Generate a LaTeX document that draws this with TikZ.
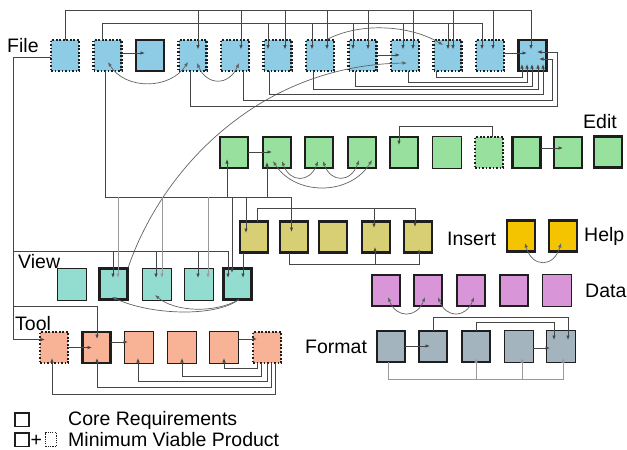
\documentclass[tikz,border=0pt]{standalone}
\usepackage{fontspec}
\setmainfont{Liberation Sans}
\usetikzlibrary{arrows.meta}
\definecolor{filebl}{RGB}{142,204,230}
\definecolor{editgr}{RGB}{152,224,158}
\definecolor{insol}{RGB}{216,206,115}
\definecolor{helpy}{RGB}{245,196,0}
\definecolor{datap}{RGB}{216,150,216}
\definecolor{formg}{RGB}{163,180,190}
\definecolor{viewt}{RGB}{147,221,208}
\definecolor{tools}{RGB}{248,178,150}
\definecolor{edge}{RGB}{30,30,30}
\definecolor{wire}{RGB}{70,70,70}

\tikzset{
  bx/.style={draw=edge, minimum width=28pt, minimum height=31pt, inner sep=0pt, outer sep=0pt},
  core/.style={bx, line width=2.4pt},
  thinb/.style={bx, line width=0.9pt, minimum width=29pt, minimum height=32pt},
  mvp/.style={bx, line width=2.2pt, dash pattern=on 1.9pt off 1.6pt},
  ln/.style={draw=wire, line width=0.8pt},
  arr/.style={ln, -{Latex[length=4.5pt,width=3.6pt]}},
  lite/.style={arr, draw=wire!55},
  curv/.style={draw=wire!85, line width=0.7pt},
  carr/.style={curv, -{Latex[length=4.5pt,width=3.6pt]}},
  darr/.style={curv, {Latex[length=4.5pt,width=3.6pt]}-{Latex[length=4.5pt,width=3.6pt]}},
  lbl/.style={font=\fontsize{19.5}{22}\selectfont, inner sep=0pt, anchor=base west},
}

\begin{document}
\begin{tikzpicture}[x=1pt,y=-1pt]
\useasboundingbox (0,0) rectangle (627,450);

% ---------- File ----------
\node[mvp,fill=filebl]  (f1)  at (65,55.5) {};
\node[mvp,fill=filebl]  (f2)  at (107.5,55.5) {};
\node[core,fill=filebl] (f3)  at (150,55.5) {};
\node[mvp,fill=filebl]  (f4)  at (192.5,55.5) {};
\node[mvp,fill=filebl]  (f5)  at (235,55.5) {};
\node[mvp,fill=filebl]  (f6)  at (277.5,55.5) {};
\node[mvp,fill=filebl]  (f7)  at (320,55.5) {};
\node[mvp,fill=filebl]  (f8)  at (362.5,55.5) {};
\node[mvp,fill=filebl]  (f9)  at (405,55.5) {};
\node[mvp,fill=filebl]  (f10) at (447.5,55.5) {};
\node[mvp,fill=filebl]  (f11) at (490,55.5) {};
\node[core,fill=filebl] (f12) at (532.5,55.5) {};

% ---------- Edit ----------
\node[core,fill=editgr]  (e1)  at (234,152.5) {};
\node[core,fill=editgr]  (e2)  at (277,152.5) {};
\node[core,fill=editgr]  (e3)  at (319,152.5) {};
\node[core,fill=editgr]  (e4)  at (362,152.5) {};
\node[core,fill=editgr]  (e5)  at (404,152.5) {};
\node[thinb,fill=editgr] (e6)  at (447,152.5) {};
\node[mvp,fill=editgr]   (e7)  at (489,152.5) {};
\node[core,fill=editgr]  (e8)  at (526.5,152.5) {};
\node[core,fill=editgr]  (e9)  at (568,152.5) {};
\node[core,fill=editgr]  (e10) at (608,152) {};

% ---------- Insert / Help ----------
\node[core,fill=insol] (i1) at (254,237) {};
\node[core,fill=insol] (i2) at (294,237) {};
\node[core,fill=insol] (i3) at (333,237) {};
\node[core,fill=insol] (i4) at (376,237) {};
\node[core,fill=insol] (i5) at (418,237) {};
\node[core,fill=helpy] (h1) at (521,236) {};
\node[core,fill=helpy] (h2) at (563,236) {};

% ---------- Data ----------
\node[core,fill=datap]  (d1) at (386,290.5) {};
\node[core,fill=datap]  (d2) at (428,290.5) {};
\node[core,fill=datap]  (d3) at (471,290.5) {};
\node[core,fill=datap]  (d4) at (514,290.5) {};
\node[thinb,fill=datap] (d5) at (556.5,290.5) {};

% ---------- Format ----------
\node[core,fill=formg]  (m1) at (391,346.5) {};
\node[core,fill=formg]  (m2) at (433,346.5) {};
\node[core,fill=formg]  (m3) at (476,346.5) {};
\node[thinb,fill=formg] (m4) at (518.5,346.5) {};
\node[thinb,fill=formg] (m5) at (561,346.5) {};

% ---------- View ----------
\node[thinb,fill=viewt] (v1) at (71.5,284) {};
\node[core,fill=viewt]  (v2) at (113.5,284) {};
\node[thinb,fill=viewt] (v3) at (156.5,284) {};
\node[thinb,fill=viewt] (v4) at (198.5,284) {};
\node[core,fill=viewt]  (v5) at (237.5,284) {};

% ---------- Tool ----------
\node[mvp,fill=tools]   (t1) at (54,347.5) {};
\node[core,fill=tools]  (t2) at (96.5,347.5) {};
\node[thinb,fill=tools] (t3) at (139,347.5) {};
\node[thinb,fill=tools] (t4) at (181.5,347.5) {};
\node[thinb,fill=tools] (t5) at (224,347.5) {};
\node[mvp,fill=tools]   (t6) at (267,347.5) {};

% ---------- group labels ----------
\node[lbl] (lfile)   at (7,52)    {File};
\node[lbl] (ledit)   at (583,128) {Edit};
\node[lbl] (lview)   at (18,268)  {View};
\node[lbl] (ltool)   at (15,330)  {Tool};
\node[lbl] (linsert) at (447,245) {Insert};
\node[lbl] (lhelp)   at (584,241) {Help};
\node[lbl] (ldata)   at (585,297) {Data};
\node[lbl] (lformat) at (305,353) {Format};

% ---------- key ----------
\node[draw=edge,line width=1.5pt,minimum width=14pt,minimum height=13.5pt,inner sep=0pt] (key1) at (22,419.5) {};
\node[lbl] (keytxt1) at (68,425) {Core Requirements};
\node[draw=edge,line width=1.5pt,minimum width=14pt,minimum height=13.5pt,inner sep=0pt] (key2) at (22,439.5) {};
\node[lbl] (keyplus) at (30.5,446) {+};
\node[draw=edge,line width=1.2pt,dash pattern=on 1.2pt off 1.1pt,minimum width=11pt,minimum height=13.5pt,inner sep=0pt] (key3) at (51,439.5) {};
\node[lbl] (keytxt2) at (68,446) {Minimum Viable Product};

% ---------- arrow tips inside the boxes ----------
% File, upper bus
\coordinate (fA4)  at ([shift={(5.5,-6)}]f4.center);
\coordinate (fA5)  at ([shift={(6,-6)}]f5.center);
\coordinate (fA6)  at ([shift={(7.5,-6)}]f6.center);
\coordinate (fA7)  at ([shift={(7,-6)}]f7.center);
\coordinate (fA8)  at ([shift={(5.5,-6)}]f8.center);
\coordinate (fA9)  at ([shift={(8,-6)}]f9.center);
\coordinate (fA10) at ([shift={(5.5,-6)}]f10.center);
\coordinate (fA11) at ([shift={(3,-6)}]f11.center);
\coordinate (fA12) at ([shift={(-1.5,-6)}]f12.center);
% File, second bus
\coordinate (fB6)  at ([shift={(-9.5,-6)}]f6.center);
\coordinate (fB7)  at ([shift={(-8,-6)}]f7.center);
\coordinate (fB8)  at ([shift={(-9.5,-6)}]f8.center);
\coordinate (fB9)  at ([shift={(-2,-6)}]f9.center);
\coordinate (fB10) at ([shift={(0.5,-6)}]f10.center);
\coordinate (fB11) at ([shift={(-8,-6)}]f11.center);
% File, side arrows
\coordinate (fC3)  at ([shift={(-5,-2.5)}]f3.center);
\coordinate (fC9)  at ([shift={(-5,-0.5)}]f9.center);
\coordinate (fC12) at ([shift={(-5.5,-2.5)}]f12.center);
% File, arcs
\coordinate (fD2)  at ([shift={(0.5,6.5)}]f2.center);
\coordinate (fD4)  at ([shift={(-4.5,6.5)}]f4.center);
\coordinate (fH4)  at ([shift={(4.5,7.5)}]f4.center);
\coordinate (fH5)  at ([shift={(4,7.5)}]f5.center);
\coordinate (fJ7)  at ([shift={(7,-16)}]f7.center);
\coordinate (fJ10) at ([shift={(-4.5,-10.5)}]f10.center);
\coordinate (fK9)  at ([shift={(2,7.5)}]f9.center);
% File, lower buses into f12
\coordinate (fE1) at ([shift={(-10.5,8.5)}]f12.center);
\coordinate (fE2) at ([shift={(-5.5,8.5)}]f12.center);
\coordinate (fE3) at ([shift={(-0.5,8.5)}]f12.center);
\coordinate (fE4) at ([shift={(5.5,8.5)}]f12.center);
\coordinate (fE5) at ([shift={(10.5,8.5)}]f12.center);
\coordinate (fG5) at ([shift={(19.5,3.5)}]f12.center);
\coordinate (fF5) at ([shift={(6.5,3.5)}]f12.center);
\coordinate (fG4) at ([shift={(24.5,-3.5)}]f12.center);
\coordinate (fF4) at ([shift={(4.5,-3.5)}]f12.center);
% View
\coordinate (vA2) at ([shift={(-0.5,-6)}]v2.center);
\coordinate (vA3) at ([shift={(-0.5,-6)}]v3.center);
\coordinate (vA4) at ([shift={(-0.5,-6)}]v4.center);
\coordinate (vA5) at ([shift={(-9.5,-6)}]v5.center);
\coordinate (vB2) at ([shift={(4.5,-6)}]v2.center);
\coordinate (vB3) at ([shift={(5.5,-6)}]v3.center);
\coordinate (vB4) at ([shift={(9.5,-6)}]v4.center);
\coordinate (vB5) at ([shift={(-5.5,-11)}]v5.center);
\coordinate (vC5) at ([shift={(5.5,-6)}]v5.center);
\coordinate (vD2) at ([shift={(-1.5,13)}]v2.center);
\coordinate (vD3) at ([shift={(-1.5,11)}]v3.center);
\coordinate (vK2) at ([shift={(14.5,-16)}]v2.center);
% Edit
\coordinate (eA1) at ([shift={(-7,6.5)}]e1.center);
\coordinate (eA2) at ([shift={(-10,9.5)}]e2.center);
\coordinate (eB2) at ([shift={(-5,-0.5)}]e2.center);
\coordinate (eC2) at ([shift={(5,8.5)}]e2.center);
\coordinate (eC3) at ([shift={(-1,8.5)}]e3.center);
\coordinate (eD3) at ([shift={(4,8.5)}]e3.center);
\coordinate (eD4) at ([shift={(-3,7.5)}]e4.center);
\coordinate (eE2) at ([shift={(-4,8.5)}]e2.center);
\coordinate (eE4) at ([shift={(10,7.5)}]e4.center);
\coordinate (eF5) at ([shift={(-5,-7.5)}]e5.center);
\coordinate (eG9) at ([shift={(-5,-4.5)}]e9.center);
% Insert
\coordinate (iA1) at ([shift={(-8,-4)}]i1.center);
\coordinate (iA2) at ([shift={(-2.5,-5)}]i2.center);
\coordinate (iB4) at ([shift={(-2,-9)}]i4.center);
\coordinate (iB5) at ([shift={(-3,-10)}]i5.center);
\coordinate (iC4) at ([shift={(-1,10)}]i4.center);
\coordinate (iC5) at ([shift={(1,12)}]i5.center);
% Help, Data
\coordinate (hA1) at ([shift={(4,7)}]h1.center);
\coordinate (hA2) at ([shift={(-2,7)}]h2.center);
\coordinate (dA1) at ([shift={(2,6.5)}]d1.center);
\coordinate (dA2) at ([shift={(-3,6.5)}]d2.center);
\coordinate (dB2) at ([shift={(10,6.5)}]d2.center);
\coordinate (dB3) at ([shift={(3,6.5)}]d3.center);
% Format
\coordinate (mA2) at ([shift={(-3,-0.5)}]m2.center);
\coordinate (mB5) at ([shift={(7,-6.5)}]m5.center);
\coordinate (mC5) at ([shift={(-7,-6.5)}]m5.center);
\coordinate (mD5) at ([shift={(-11,1.5)}]m5.center);
\coordinate (mE3) at ([shift={(0,11.5)}]m3.center);
\coordinate (mE4) at ([shift={(3.5,11.5)}]m4.center);
\coordinate (mE5) at ([shift={(2,11.5)}]m5.center);
% Tool
\coordinate (tT1) at ([shift={(-9,-8)}]t1.center);
\coordinate (tT2) at ([shift={(0.5,-8.5)}]t2.center);
\coordinate (tB2) at ([shift={(-4.5,0)}]t2.center);
\coordinate (tC3) at ([shift={(-11,-5.5)}]t3.center);
\coordinate (tD6) at ([shift={(-10,-8.5)}]t6.center);
\coordinate (tE1) at ([shift={(-2,10.5)}]t1.center);
\coordinate (tE2) at ([shift={(0.5,10.5)}]t2.center);
\coordinate (tE3) at ([shift={(-1,10.5)}]t3.center);
\coordinate (tE4) at ([shift={(0.5,10.5)}]t4.center);
\coordinate (tE5) at ([shift={(0,10.5)}]t5.center);

% ---------- File connectors ----------
\draw[arr] (f1.north) -- ++(0,-30) coordinate (busA) -| (fA12);
\foreach \k in {4,...,11} \draw[arr] (fA\k |- busA) -- (fA\k);
\draw[arr] ([xshift=-5.5pt]f2.north) -- ++(0,-17) coordinate (busB) -| (fB11);
\foreach \k in {6,...,10} \draw[arr] (fB\k |- busB) -- (fB\k);

\draw[arr] (fC3 -| f2.east) -- (fC3);
\draw[arr] (fC9 -| f8.east) -- (fC9);
\draw[arr] (fC12 -| f11.east) -- (fC12);

\draw[darr] (fD2) .. controls +(17,28) and +(-18,28) .. (fD4);
\draw[darr] (fH4) .. controls +(10,23) and +(-10,23) .. (fH5);
\draw[carr] (fJ7) .. controls +(33,-17.5) and +(-33,-20) .. (fJ10);
\draw[carr] (vK2) .. controls +(34,-100) and +(-147,2) .. (fK9);

\draw[arr] ([xshift=-11.5pt]f10.south) -- ++(0,6)  -| (fE1);
\draw[arr] ([xshift=3pt]f9.south)      -- ++(0,11) -| (fE2);
\draw[arr] ([xshift=-7.5pt]f8.south)   -- ++(0,15) -| (fE3);
\draw[arr] ([xshift=-7pt]f7.south)     -- ++(0,18) -| (fE4);
\draw[arr] ([xshift=-8.5pt]f6.south)   -- ++(0,23) -| (fE5);
\draw[arr] ([xshift=8pt]f5.south)      -- ++(0,29) -| (fG5) -- (fF5);
\draw[arr] ([xshift=-2.5pt]f4.south)   -- ++(0,35) -| (fG4) -- (fF4);

% File 1 down the left side to View and Tool
\draw[arr] ([yshift=-1.5pt]f1.west) -- ++(-38,0) coordinate (lA) |- (tT1);
\path (lA |- v1.center) ++(0,-33) coordinate (busV);
\draw[arr] (busV) -| (vA5);
\foreach \k in {2,3,4} \draw[arr] (vA\k |- busV) -- (vA\k);
\path (lA |- t1.center) ++(0,-41.5) coordinate (busT);
\draw[arr] (busT) -| (tT2);

% File 2 down to Edit, Insert and View
\draw[arr] ([xshift=-2.5pt]f2.south) -- ++(0,126) coordinate (busW) -| (iA2);
\draw[arr] (eA1 |- busW) -- (eA1);
\draw[arr] (eA2 |- busW) -- (eA2);
\draw[arr] (iA1 |- busW) -- (iA1);
\draw[lite] (vB2 |- busW) -- (vB2);
\draw[lite] (vB3 |- busW) -- (vB3);
\draw[lite] (vB4 |- busW) -- (vB4);
\draw[arr] (vB5 |- busW) -- (vB5);

% ---------- View ----------
\draw[arr] (vC5 |- i1.south) -- (vC5);
\draw[carr] ([xshift=1.5pt]v5.south) .. controls +(-24,18) and +(38,18) .. (vD2);
\draw[carr] ([xshift=1.5pt]v5.south) .. controls +(-24,14) and +(20,17) .. (vD3);

% ---------- Edit ----------
\draw[arr] (eB2 -| e1.east) -- (eB2);
\draw[darr] (eC2) .. controls +(8,22) and +(-8,22) .. (eC3);
\draw[darr] (eD3) .. controls +(8,22) and +(-8,23) .. (eD4);
\draw[darr] (eE2) .. controls +(22,35) and +(-22,36) .. (eE4);
\draw[arr] ([xshift=3pt]e7.north) -- ++(0,-11) -| (eF5);
\draw[arr] (eG9 -| e8.east) -- (eG9);

% ---------- Insert ----------
\draw[arr] ([xshift=3pt]i1.north) -- ++(0,-13.5) coordinate (busI) -| (iB5);
\draw[arr] (iB4 |- busI) -- (iB4);
\draw[arr] ([xshift=-5pt]i2.south) -- ++(0,11.5) coordinate (busJ) -| (iC5);
\draw[arr] (iC4 |- busJ) -- (iC4);

% ---------- Help, Data ----------
\draw[darr] (hA1) .. controls +(7,25) and +(-7,25) .. (hA2);
\draw[darr] (dA1) .. controls +(8,21.5) and +(-8,21.5) .. (dA2);
\draw[darr] (dB2) .. controls +(8,21.5) and +(-8,21.5) .. (dB3);

% ---------- Format ----------
\draw[arr] (mA2 -| m1.east) -- (mA2);
\draw[arr] (m2.north) -- ++(0,-14) -| (mB5);
\draw[arr] (m3.north) -- ++(0,-9) -| (mC5);
\draw[arr] (mD5 -| m4.east) -- (mD5);
\draw[lite] ([xshift=-3pt]m1.south) -- ++(0,17) coordinate (busM) -| (mE5);
\draw[lite] (mE3 |- busM) -- (mE3);
\draw[lite] (mE4 |- busM) -- (mE4);

% ---------- Tool ----------
\draw[arr] (tB2 -| t1.east) -- (tB2);
\draw[arr] (tC3 -| t2.east) -- (tC3);
\draw[arr] (tD6 -| t5.east) -- (tD6);
\draw[arr] ([xshift=-10pt]t6.south) -- ++(0,5)  -| (tE5);
\draw[arr] ([xshift=-6pt]t6.south)  -- ++(0,13) -| (tE4);
\draw[arr] (t6.south)               -- ++(0,18) -| (tE3);
\draw[arr] ([xshift=4pt]t6.south)   -- ++(0,24) -| (tE2);
\draw[arr] ([xshift=8pt]t6.south)   -- ++(0,31) -| (tE1);
\end{tikzpicture}
\end{document}
